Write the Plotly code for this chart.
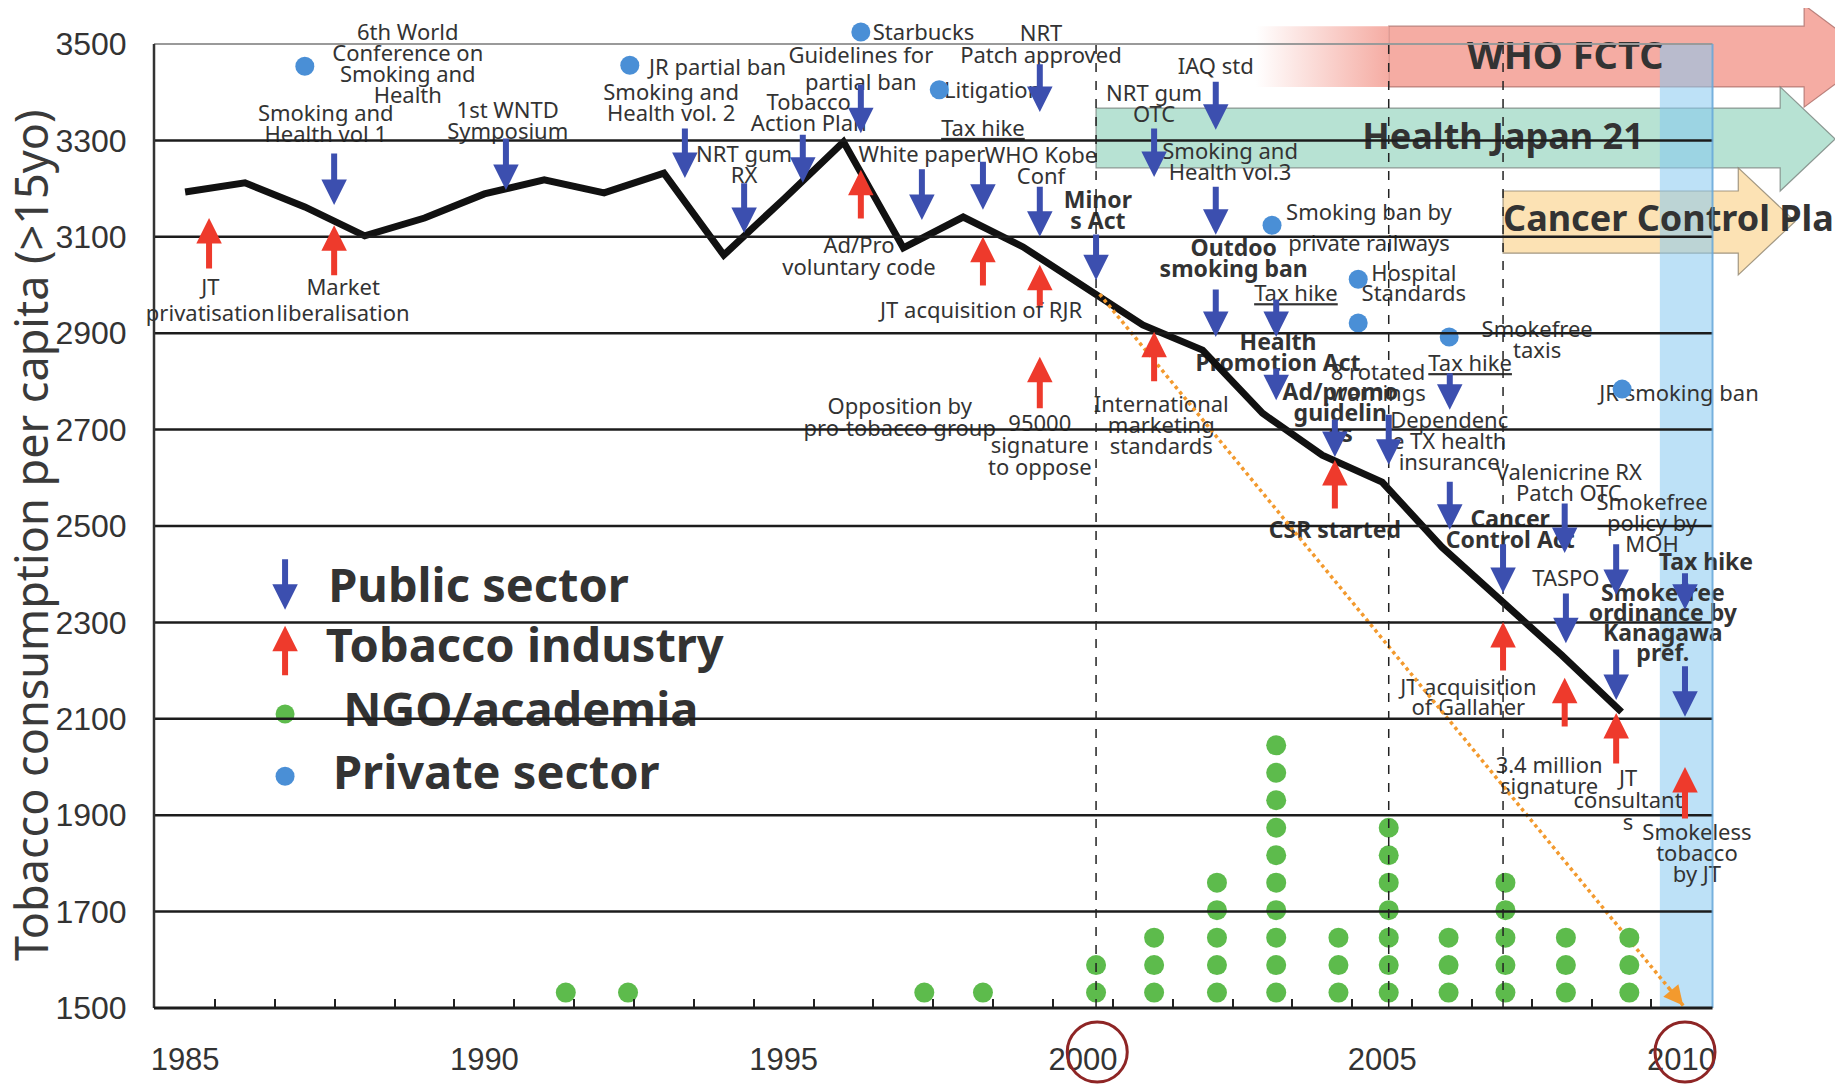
import plotly.graph_objects as go

# ---------------- data ----------------
years = list(range(1985, 2010))
consumption = [3193, 3212, 3162, 3102, 3139, 3189, 3218, 3191, 3232, 3062, 3178,
               3297, 3077, 3141, 3079, 2996, 2917, 2865, 2734, 2647, 2591, 2456,
               2346, 2232, 2114]

# projected decline (orange dotted arrow)
trend_x = [2000.28, 2010.03]
trend_y = [2981, 1505]

# public sector actions: year, arrow starts, arrow ends
public_arrows = [
    (1987.49, 3276, 3166), (1990.36, 3307, 3197), (1993.35, 3328, 3222),
    (1994.34, 3214, 3108), (1995.32, 3315, 3212), (1996.29, 3419, 3315),
    (1997.31, 3243, 3135), (1998.33, 3259, 3156), (1999.28, 3461, 3359),
    (1999.28, 3207, 3100), (2000.22, 3108, 3010), (2001.19, 3328, 3224),
    (2002.22, 3425, 3322), (2002.22, 3207, 3104), (2002.22, 2994, 2892),
    (2003.23, 2973, 2892), (2003.23, 2830, 2761), (2004.21, 2724, 2643),
    (2005.11, 2734, 2627), (2006.13, 2820, 2741), (2006.13, 2595, 2492),
    (2007.02, 2465, 2361), (2008.05, 2550, 2444), (2008.07, 2363, 2257),
    (2008.91, 2465, 2357), (2008.91, 2247, 2139), (2010.06, 2405, 2326),
    (2010.06, 2212, 2104),
]

# tobacco industry actions
industry_arrows = [
    (1985.40, 3031, 3139), (1987.49, 3017, 3124), (1996.29, 3135, 3239),
    (1998.33, 2996, 3100), (1999.28, 2954, 3042), (1999.28, 2741, 2851),
    (2001.19, 2797, 2903), (2004.21, 2533, 2637), (2007.02, 2197, 2301),
    (2008.05, 2081, 2185), (2008.91, 2004, 2112), (2010.06, 1890, 2000),
]

# private sector events
private_x = [1987.0, 1992.43, 1996.29, 1997.60, 2003.16, 2004.60, 2004.60, 2006.12, 2009.01]
private_y = [3454, 3456, 3525, 3405, 3124, 3012, 2921, 2892, 2784]

# NGO / academia activities per year (stacked dots)
ngo_x = [1991.36, 1992.40, 1997.35, 1998.33, 2000.22, 2001.19, 2002.24, 2003.23,
         2004.27, 2005.11, 2006.11, 2007.06, 2008.07, 2009.13]
ngo_count = [1, 1, 1, 1, 2, 3, 5, 10, 3, 7, 3, 5, 3, 3]

# policy periods (start year)
periods = [("WHO FCTC", 2005.11), ("Health Japan 21", 2000.22), ("Cancer Control Plan", 2007.02)]
current_band = (2009.64, 2010.53)
circled_years = [2000.24, 2010.06]

# labels: text, x, y of first line, optional line gap (px)
labels_regular = [
    ("Smoking and\nHealth vol 1", 1987.35, 3357),
    ("1st WNTD\nSymposium", 1990.39, 3363),
    ("Smoking and\nHealth vol. 2", 1993.12, 3400),
    ("NRT gum\nRX", 1994.34, 3272),
    ("Tobacco\nAction Plan", 1995.42, 3380),
    ("Guidelines for\npartial ban", 1996.29, 3477, 27),
    ("White paper", 1997.31, 3272),
    ("<u>Tax hike</u>", 1998.33, 3326),
    ("NRT\nPatch approved", 1999.30, 3523, 22),
    ("WHO Kobe\nConf", 1999.30, 3270),
    ("NRT gum\nOTC", 2001.19, 3398),
    ("IAQ std", 2002.22, 3454),
    ("Smoking and\nHealth vol.3", 2002.46, 3278),
    ("<u>Tax hike</u>", 2003.56, 2983),
    ("8 rotated\nwarnings", 2004.93, 2820),
    ("Dependenc\ne TX health\ninsurance", 2006.12, 2720),
    ("<u>Tax hike</u>", 2006.47, 2838),
    ("Valenicrine RX\nPatch OTC", 2008.12, 2612),
    ("TASPO", 2008.07, 2392),
    ("Smokefree\npolicy by\nMOH", 2009.51, 2550),
    ("JT\nprivatisation", 1985.42, 2996, 26),
    ("Market\nliberalisation", 1987.64, 2996, 26),
    ("Ad/Pro\nvoluntary code", 1996.26, 3083, 22),
    ("JT acquisition of RJR", 1998.30, 2948),
    ("Opposition by\npro-tobacco group", 1996.94, 2749, 22),
    ("95000\nsignature\nto oppose", 1999.28, 2714, 22),
    ("International\nmarketing\nstandards", 2001.31, 2753),
    ("JT acquisition\nof Gallaher", 2006.44, 2166, 20),
    ("3.4 million\nsignature", 2007.79, 2004),
    ("JT\nconsultant\ns", 2009.11, 1977, 22),
    ("Smokeless\ntobacco\nby JT", 2010.26, 1865),
    ("6th World\nConference on\nSmoking and\nHealth", 1988.72, 3525),
    ("Smoking ban by\nprivate railways", 2004.78, 3151, 31),
    ("Hospital\nStandards", 2005.53, 3025, 20),
    ("Smokefree\ntaxis", 2007.59, 2909),
    ("JR smoking ban", 2009.96, 2776),
]
labels_left = [
    ("JR partial ban", 1992.75, 3452),
    ("Starbucks", 1996.49, 3525),
    ("Litigation", 1997.68, 3405),
]
labels_bold = [
    ("Minor\ns Act", 2000.25, 3176),
    ("Outdoo\nsmoking ban", 2002.52, 3077),
    ("Health\nPromotion Act", 2003.26, 2882),
    ("Ad/promo\nguidelin\nes", 2004.30, 2778),
    ("Cancer\nControl Act", 2007.14, 2515),
    ("Tax hike", 2010.41, 2425),
    ("Smokefree\nordinance by\nKanagawa\npref.", 2009.69, 2361, 20),
    ("CSR started", 2004.21, 2492),
]
legend_items = ["Public sector", "Tobacco industry", "NGO/academia", "Private sector"]

# ---------------- styling / layout ----------------
BLUE = "#3C4FAF"
RED = "#EE3A2C"
GREEN = "#5DBB4C"
SKY = "#4A8FD6"
TXT = "#333333"
FONT = "Noto Sans"

# page body has an 8px margin, so the figure is 8px smaller than the window
fig_w, fig_h = 1835, 1079
plot_h = 1000
PX = 2000 / 964                      # data units per pixel on the y axis
TEXT_DY = -2.5 * PX                  # small baseline correction for the labels
x_range = [1984.48, 2012.70]
y_range = [1500, 1500 + plot_h * PX]
x_end = 2010.52
ticks_y = list(range(1500, 3501, 200))


def text_trace(labels, size=22, weight="normal", pos="middle center"):
    xs, ys, ts = [], [], []
    for lab in labels:
        text, x, y = lab[0], lab[1], lab[2]
        gap = lab[3] if len(lab) > 3 else 21
        for i, line in enumerate(text.split("\n")):
            xs.append(x)
            ys.append(y + TEXT_DY - i * gap * PX)
            ts.append(line)
    return go.Scatter(x=xs, y=ys, text=ts, mode="text", textposition=pos, cliponaxis=False,
                      textfont=dict(family=FONT, size=size, color=TXT, weight=weight),
                      hoverinfo="skip", showlegend=False)


def arrow(x, y_from, y_to, color):
    return dict(x=x, y=y_to, ax=x, ay=y_from, xref="x", yref="y", axref="x", ayref="y",
                text="", showarrow=True, arrowhead=2, arrowsize=0.85, arrowwidth=6,
                arrowcolor=color, standoff=0)


fig = go.Figure()

# pink fade leading into WHO FCTC arrow
fctc = periods[0][1]
fig.add_trace(go.Scatter(x=[2002.89, fctc, fctc, 2002.89, 2002.89], y=[3537, 3537, 3411, 3411, 3537],
                         mode="lines", fill="toself", line=dict(width=0, color="rgba(0,0,0,0)"),
                         fillgradient=dict(type="horizontal",
                                           colorscale=[[0, "rgba(245,172,163,0)"], [1, "rgba(245,172,163,1)"]]),
                         hoverinfo="skip", showlegend=False))

fig.add_trace(text_trace(labels_regular))
fig.add_trace(text_trace(labels_left, pos="middle right"))
fig.add_trace(text_trace(labels_bold, size=23, weight="bold"))
fig.add_trace(text_trace([("WHO FCTC", 2008.06, 3473)], size=38, weight="bold"))
fig.add_trace(text_trace([("Health Japan 21", 2007.02, 3305)], size=36, weight="bold"))
fig.add_trace(text_trace([("Cancer Control Plan", 2007.02, 3135)], size=36, weight="bold", pos="middle right"))

# legend text
leg_x = [1987.39, 1987.35, 1987.64, 1987.47]
leg_y = [2371, 2247, 2114, 1983]
fig.add_trace(text_trace([(t, x, y) for t, x, y in zip(legend_items, leg_x, leg_y)],
                         size=47, weight="bold", pos="middle right"))

# consumption line
fig.add_trace(go.Scatter(x=years, y=consumption, mode="lines", line=dict(color="#111111", width=7),
                         hoverinfo="skip", showlegend=False))
# projection
fig.add_trace(go.Scatter(x=trend_x, y=trend_y, mode="lines",
                         line=dict(color="#F39A2E", width=3.5, dash="dot"),
                         hoverinfo="skip", showlegend=False))

# NGO dots stacked per year
ngo_px, ngo_py = [], []
for x, n in zip(ngo_x, ngo_count):
    for k in range(n):
        ngo_px.append(x)
        ngo_py.append(1532 + k * 57)
fig.add_trace(go.Scatter(x=ngo_px, y=ngo_py, mode="markers", marker=dict(size=20, color=GREEN),
                         hoverinfo="skip", showlegend=False))
fig.add_trace(go.Scatter(x=private_x, y=private_y, mode="markers", marker=dict(size=19, color=SKY),
                         hoverinfo="skip", showlegend=False))
# legend markers
fig.add_trace(go.Scatter(x=[1986.67, 1986.67], y=[2110, 1981], mode="markers",
                         marker=dict(size=19, color=[GREEN, SKY]), hoverinfo="skip", showlegend=False))

annotations = [arrow(*a, BLUE) for a in public_arrows] + [arrow(*a, RED) for a in industry_arrows]
annotations += [arrow(1986.67, 2434, 2326, BLUE), arrow(1986.67, 2187, 2293, RED)]
# arrow head of projection
t = 0.975
annotations.append(dict(x=trend_x[1], y=trend_y[1],
                        ax=trend_x[0] + t * (trend_x[1] - trend_x[0]),
                        ay=trend_y[0] + t * (trend_y[1] - trend_y[0]),
                        xref="x", yref="y", axref="x", ayref="y", text="", showarrow=True,
                        arrowhead=2, arrowsize=1.3, arrowwidth=3, arrowcolor="#F39A2E"))
annotations.append(dict(text="Tobacco consumption per capita (>15yo)", textangle=-90,
                        xref="paper", yref="paper", x=-0.0734, y=0.473, xanchor="center",
                        yanchor="middle", showarrow=False,
                        font=dict(family=FONT, size=45, color="#3a3a3a")))

# ---------------- shapes ----------------
shapes = []
geo = {
    "WHO FCTC": dict(body=(3537, 3411), neck=2012.05, head=(3581, 3369), tip=2013.2,
                     fill="#F5ACA3", line="rgba(170,110,105,0.8)"),
    "Health Japan 21": dict(body=(3367, 3243), neck=2011.65, head=(3411, 3195), tip=2012.57,
                            fill="#B7E2D3", line="rgba(120,130,125,0.8)"),
    "Cancer Control Plan": dict(body=(3195, 3066), neck=2010.95, head=(3243, 3021), tip=2011.90,
                                fill="#FCE2B4", line="rgba(140,130,110,0.8)"),
}
for name, start in periods:
    g = geo[name]
    mid = (g["head"][0] + g["head"][1]) / 2
    path = (f"M{start},{g['body'][0]} L{g['neck']},{g['body'][0]} L{g['neck']},{g['head'][0]} "
            f"L{g['tip']},{mid} L{g['neck']},{g['head'][1]} L{g['neck']},{g['body'][1]} "
            f"L{start},{g['body'][1]} Z")
    shapes.append(dict(type="path", path=path, xref="x", yref="y", fillcolor=g["fill"],
                       line=dict(color=g["line"], width=1.2), layer="below"))

shapes.append(dict(type="rect", xref="x", yref="y", x0=current_band[0], x1=current_band[1],
                   y0=1500, y1=3500, fillcolor="rgba(135,200,240,0.55)", line=dict(width=0), layer="below"))

for v in ticks_y[1:]:
    shapes.append(dict(type="line", xref="x", yref="y", x0=x_range[0], x1=x_end, y0=v, y1=v,
                       line=dict(color="#9a9a9a" if v == 3500 else "#1c1c1c", width=2 if v == 3500 else 2.5),
                       layer="above"))
for name, start in periods:
    shapes.append(dict(type="line", xref="x", yref="y", x0=start, x1=start, y0=1500, y1=3500,
                       line=dict(color="#222222", width=1.5, dash="dash"), layer="above"))
shapes.append(dict(type="line", xref="x", yref="y", x0=x_end, x1=x_end, y0=1500, y1=3500,
                   line=dict(color="rgba(100,165,215,0.8)", width=2), layer="above"))
shapes.append(dict(type="line", xref="paper", yref="y", x0=0, x1=0, y0=1500, y1=3500,
                   line=dict(color="#333333", width=2.5), layer="above"))
shapes.append(dict(type="line", xref="x", yref="paper", x0=x_range[0], x1=x_end, y0=0, y1=0,
                   line=dict(color="#1c1c1c", width=3), layer="above"))
for cx in circled_years:
    shapes.append(dict(type="circle", xref="x", yref="paper", xsizemode="pixel", ysizemode="pixel",
                       xanchor=cx, yanchor=-0.044, x0=-30, x1=30, y0=-30, y1=30,
                       line=dict(color="#8E2525", width=3), layer="above"))

fig.update_layout(
    width=fig_w, height=fig_h,
    margin=dict(l=146, r=0, t=0, b=fig_h - plot_h),
    paper_bgcolor="white", plot_bgcolor="white",
    showlegend=False,
    shapes=shapes, annotations=annotations,
    xaxis=dict(range=x_range, tickvals=[1985, 1990, 1995, 2000, 2005, 2010],
               ticks="outside", ticklen=24, tickcolor="rgba(0,0,0,0)",
               tickfont=dict(family="Liberation Sans", size=31, color=TXT),
               showgrid=False, zeroline=False, showline=False,
               minor=dict(tickvals=[y + 0.5 for y in range(1985, 2010)], ticks="inside",
                          ticklen=9, tickwidth=2, tickcolor="#222222", showgrid=False)),
    yaxis=dict(range=y_range, tickvals=ticks_y, ticks="outside", ticklen=20,
               tickcolor="rgba(0,0,0,0)", tickfont=dict(family="Liberation Sans", size=32, color=TXT),
               showgrid=False, zeroline=False, showline=False),
)

fig.write_html("out.html")
